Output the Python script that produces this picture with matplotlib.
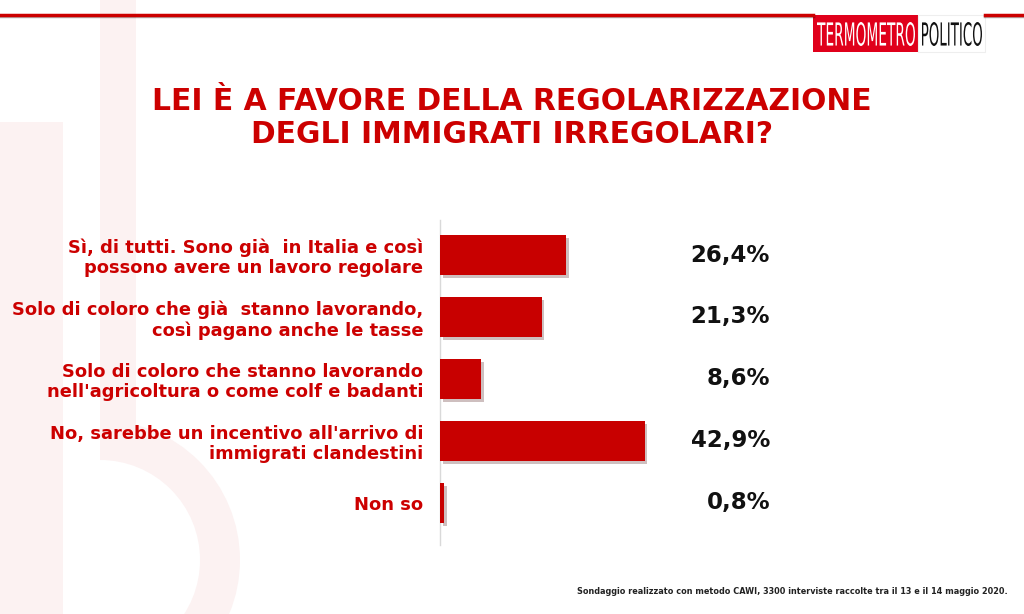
import matplotlib
matplotlib.use("Agg")
import matplotlib.pyplot as plt
import matplotlib.patches as mpatches
import matplotlib.patheffects as pe
from matplotlib.textpath import TextPath
from matplotlib.font_manager import FontProperties
from matplotlib.transforms import Affine2D

labels = [
    "Sì, di tutti. Sono già  in Italia e così\npossono avere un lavoro regolare",
    "Solo di coloro che già  stanno lavorando,\ncosì pagano anche le tasse",
    "Solo di coloro che stanno lavorando\nnell'agricoltura o come colf e badanti",
    "No, sarebbe un incentivo all'arrivo di\nimmigrati clandestini",
    "Non so",
]
values = [26.4, 21.3, 8.6, 42.9, 0.8]
value_labels = ["26,4%", "21,3%", "8,6%", "42,9%", "0,8%"]

title = "LEI È A FAVORE DELLA REGOLARIZZAZIONE\nDEGLI IMMIGRATI IRREGOLARI?"
note = "Sondaggio realizzato con metodo CAWI, 3300 interviste raccolte tra il 13 e il 14 maggio 2020."

red = "#cc0000"
W, H = 1024, 614
plt.rcParams["font.family"] = ["DejaVu Sans"]

fig = plt.figure(figsize=(W / 100, H / 100), dpi=100)

# background layer in pixel coords
bg = fig.add_axes([0, 0, 1, 1])
bg.set_xlim(0, W)
bg.set_ylim(H, 0)
bg.axis("off")
wm = "#fcf2f2"
bg.add_patch(mpatches.Rectangle((100, 0), 36, 440, color=wm, lw=0))
bg.add_patch(mpatches.Rectangle((0, 122), 63, 492, color=wm, lw=0))
bg.add_patch(mpatches.Wedge((100, 560), 140, 270, 90, width=40, color=wm, lw=0))

# top line with logo
shadow = [pe.SimpleLineShadow(offset=(0, -1), alpha=0.3), pe.Normal()]
bg.plot([0, 813], [15, 15], color=red, lw=2.5, path_effects=shadow)
bg.plot([985, W], [15, 15], color=red, lw=2.5, path_effects=shadow)
bg.add_patch(mpatches.Rectangle((813, 15), 105, 37, color="#e0001b", lw=0))
bg.add_patch(mpatches.Rectangle((918, 15), 67, 37, facecolor="white", edgecolor="#eeeeee", lw=0.8))


def logo_word(word, xa, xb, ya, yb, color):
    # condensed lettering: squeeze a text path into the given box
    tp = TextPath((0, 0), word, size=10, prop=FontProperties(family="DejaVu Sans"))
    ext = tp.get_extents()
    sx = (xb - xa) / ext.width
    sy = (yb - ya) / ext.height
    tr = Affine2D().translate(-ext.x0, -ext.y0).scale(sx, -sy).translate(xa, yb)
    bg.add_patch(mpatches.PathPatch(tp, color=color, lw=0, transform=tr + bg.transData))


logo_word("TERMOMETRO", 817, 915, 22, 46, "white")
logo_word("POLITICO", 922, 982, 22, 46, "#111111")

# title
bg.text(512, 118, title, color=red, fontsize=21.4, fontweight="bold", ha="center",
        va="center", linespacing=1.15)

# footnote
bg.text(1008, 591, note, color="#222222", fontsize=5.85, fontweight="bold", ha="right", va="center")

# bar chart
x0, x1 = 440, 770
y0, y1 = 220, 545
ax = fig.add_axes([x0 / W, 1 - y1 / H, (x1 - x0) / W, (y1 - y0) / H])
ax.patch.set_visible(False)
pos = list(range(len(values)))
bars = ax.barh(pos, values, height=0.65, color="#c80000", zorder=3)
for b in bars:
    b.set_path_effects([pe.SimplePatchShadow(offset=(2, -2), alpha=0.25), pe.Normal()])
ax.set_xlim(0, (x1 - x0) / 4.77)
ax.set_ylim(4.68, -0.565)
for s in ["top", "right", "bottom"]:
    ax.spines[s].set_visible(False)
ax.spines["left"].set_color("#d9d9d9")
ax.spines["left"].set_linewidth(1)
ax.set_xticks([])
ax.set_yticks(pos)
ax.set_yticklabels(labels, color=red, fontsize=12.9, fontweight="bold", linespacing=1.15)
ax.tick_params(axis="y", length=0, pad=12)
for p, v in zip(pos, value_labels):
    ax.text(1.0, p, v, transform=ax.get_yaxis_transform(), ha="right", va="center",
            fontsize=16.5, fontweight="bold", color="#111111")

fig.savefig("out.png", dpi=100)
